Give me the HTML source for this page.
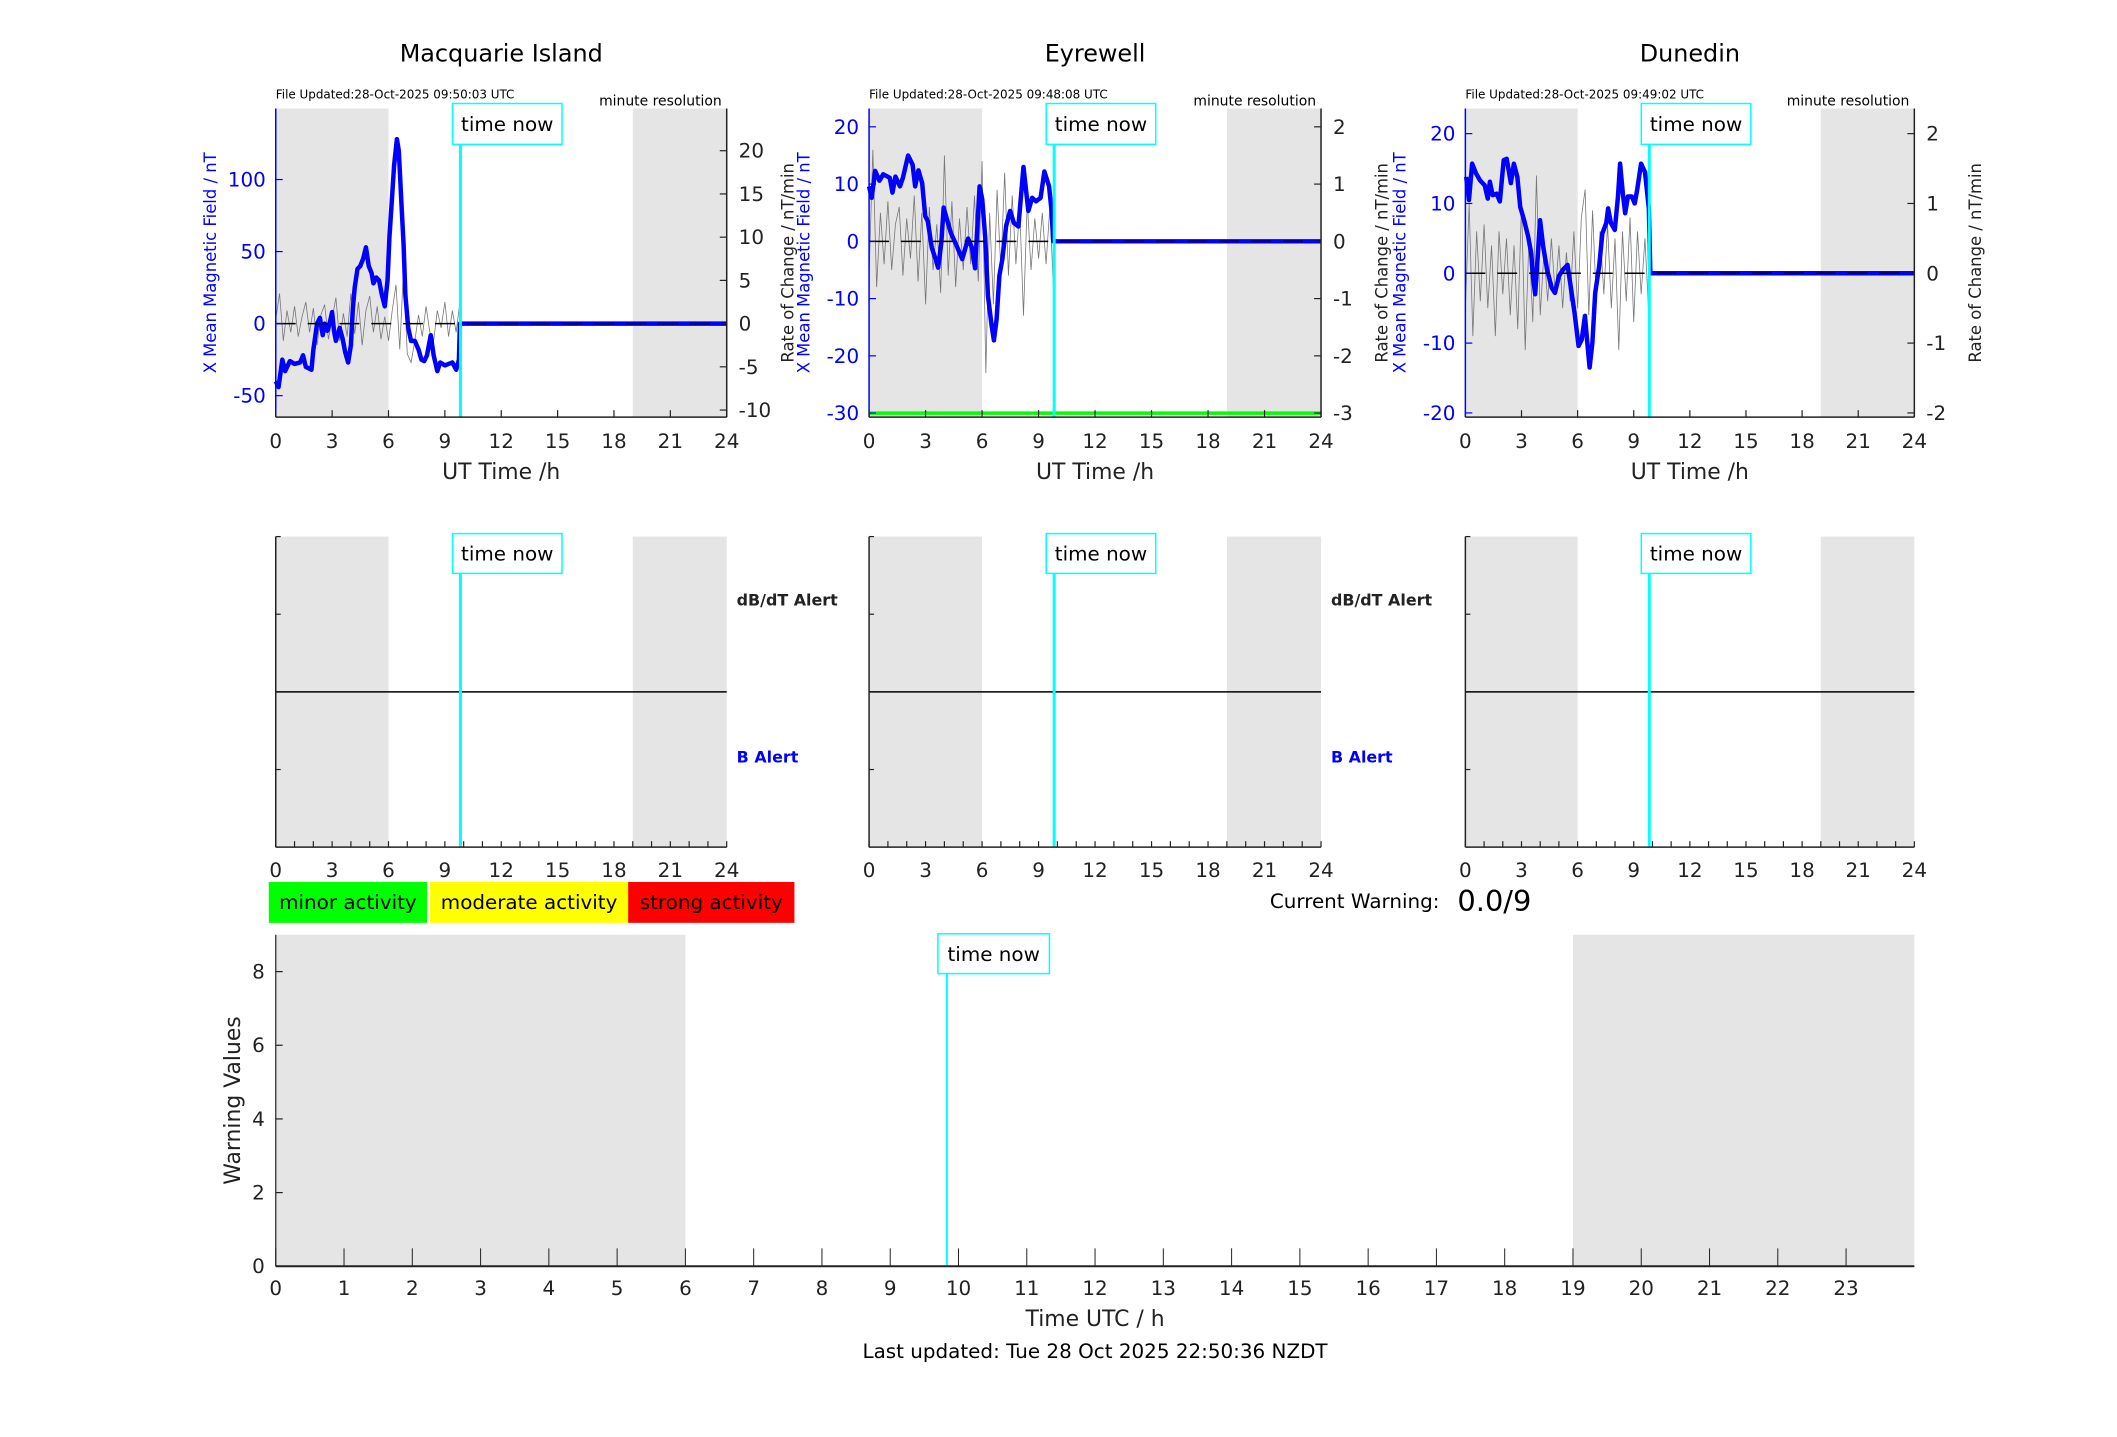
<!DOCTYPE html>
<html><head><meta charset="utf-8"><style>
html,body{margin:0;padding:0;background:#fff;}
svg{display:block;font-family:"DejaVu Sans","Liberation Sans",sans-serif;}
</style></head><body>
<svg id="fig" width="2117" height="1437" viewBox="0 0 2117 1437" xmlns="http://www.w3.org/2000/svg"><g id="root" transform="scale(0.9955)"></g></svg>
<script>
// ---- data ----
const hourTicksTop = [0,3,6,9,12,15,18,21,24];
const nightStart = 0, nightEnd = 6, night2Start = 19, night2End = 24;
const timeNow = 9.83;
const stationNames = ["Macquarie Island","Eyrewell","Dunedin"];
const fileUpdated = ["File Updated:28-Oct-2025 09:50:03 UTC","File Updated:28-Oct-2025 09:48:08 UTC","File Updated:28-Oct-2025 09:49:02 UTC"];
const leftRanges = [[-64.9,149.3],[-30.7,23.2],[-20.6,23.6]];
const leftTicks = [[-50,0,50,100],[-30,-20,-10,0,10,20],[-20,-10,0,10,20]];
const rightScale = [6,10,10];
const rightTicks = [[-10,-5,0,5,10,15,20],[-3,-2,-1,0,1,2],[-2,-1,0,1,2]];

const macqT = [0,0.15,0.35,0.5,0.75,1.0,1.3,1.45,1.6,1.9,2.0,2.2,2.35,2.5,2.6,2.75,2.9,3.0,3.1,3.2,3.4,3.55,3.7,3.85,4.0,4.1,4.2,4.35,4.5,4.65,4.8,4.95,5.1,5.2,5.35,5.5,5.65,5.8,5.95,6.05,6.15,6.3,6.45,6.55,6.7,6.8,6.9,7.05,7.2,7.4,7.6,7.75,7.9,8.05,8.25,8.4,8.6,8.75,9.0,9.2,9.4,9.6,9.75,9.8,24];
const macqB = [-40,-44,-25,-33,-26,-28,-27,-22,-30,-32,-18,0,4,-8,0,-5,2,8,-5,-12,-3,-10,-20,-27,-15,10,25,38,40,45,53,40,35,28,32,30,20,12,30,60,80,110,128,120,80,55,20,-3,-12,-12,-18,-25,-26,-22,-8,-22,-33,-27,-29,-28,-27,-32,-25,0,0];
const eyreT = [0,0.14,0.32,0.55,0.75,1.1,1.24,1.4,1.64,1.8,2.07,2.31,2.45,2.62,2.82,2.98,3.12,3.33,3.53,3.67,3.84,3.96,4.14,4.34,4.65,4.95,5.26,5.46,5.63,5.87,6.01,6.17,6.31,6.51,6.63,6.77,6.92,7.08,7.28,7.49,7.69,7.93,8.2,8.46,8.66,8.87,9.11,9.31,9.56,9.7,9.78,24];
const eyreB = [9.6,7.6,12.3,10.6,11.7,11.1,8.5,11.3,9.6,11.1,15,13.4,9.6,12.4,10.2,4.4,3.5,-1.1,-3.1,-4.6,-0.2,5.9,3.8,1.5,-0.8,-3.1,0.5,-1.1,-4.7,9.6,7.3,0.6,-9.5,-14.7,-17.3,-13.6,-6.0,-3.1,2.7,5.3,3.2,2.6,13,5.3,7.6,7.0,7.6,12.2,9.6,5,0,0];
const dunT = [0.04,0.19,0.36,0.57,0.78,1.03,1.2,1.31,1.46,1.67,1.84,2.05,2.21,2.43,2.59,2.78,2.93,3.14,3.35,3.52,3.63,3.73,3.88,3.99,4.16,4.37,4.62,4.79,5.0,5.21,5.46,5.63,5.84,6.05,6.22,6.39,6.54,6.64,6.79,6.94,7.15,7.32,7.53,7.63,7.78,7.99,8.16,8.27,8.42,8.54,8.69,8.9,9.05,9.18,9.39,9.6,9.81,9.89,24];
const dunB = [13.8,10.5,15.7,14.3,13.3,12.6,10.7,13.1,11.2,11.4,10.3,16.2,16.4,12.9,15.7,13.8,9.5,7.6,5.3,2.9,-0.9,-3.0,2.9,7.6,3.8,0.5,-2.1,-2.8,-0.4,0.5,1.2,-1.9,-5.7,-10.4,-9.5,-6.1,-10.6,-13.5,-9.9,-2.8,1.0,5.7,7.2,9.3,7.2,6.2,11,15.7,11.4,8.6,11,11,10,11.9,15.7,14.5,9.3,0,0];

const rateT = [0,0.2,0.4,0.6,0.8,1.0,1.2,1.4,1.6,1.8,2.0,2.2,2.4,2.6,2.8,3.0,3.2,3.4,3.6,3.8,4.0,4.2,4.4,4.6,4.8,5.0,5.2,5.4,5.6,5.8,6.0,6.2,6.4,6.6,6.8,7.0,7.2,7.4,7.6,7.8,8.0,8.2,8.4,8.6,8.8,9.0,9.2,9.4,9.6,9.8];
const macqRate = [0.5,3.5,-2,1.5,-1,2,-1.5,0.8,2.5,-1,1.8,-2.5,1,2.2,-1.8,0.5,3,-2,1.2,-1.5,3.5,-1.2,2.5,-2.5,1.5,3.2,-1,2,-1.8,0.8,-2,1.5,4.5,-3,6.5,-3.5,-4.5,-2,1,-1.5,2,-1,-2,1.5,-0.5,2.5,-1.5,1.5,-1,2.5];
const eyreRate = [-0.6,1.6,-0.8,0.5,-0.4,0.7,-0.5,0.3,0.6,-0.6,0.4,-0.3,0.8,-0.7,0.5,-1.1,0.6,-0.5,0.3,-0.9,1.5,-0.6,0.7,-0.8,0.4,-0.5,0.6,-0.4,0.8,-0.7,1.4,-2.3,0.5,-1.1,0.9,-0.5,1.2,-0.6,0.8,-0.4,0.6,-1.3,0.7,-0.5,0.4,-0.3,0.5,-0.4,0.6,-0.9];
const dunRate = [-0.5,1.0,-0.9,0.6,-0.4,0.7,-0.5,0.4,-0.9,0.6,-0.3,0.5,-0.6,0.4,-0.8,1.0,-1.1,0.5,-0.7,1.4,-0.6,0.3,-0.4,0.5,-0.3,0.4,-0.5,0.3,-0.4,0.6,-0.5,0.8,1.2,-0.6,0.9,-0.4,0.6,-0.3,0.7,-0.5,0.5,-1.1,0.6,-0.4,0.8,-0.7,0.6,-0.3,0.5,-0.6];

const warnXTicks = [0,1,2,3,4,5,6,7,8,9,10,11,12,13,14,15,16,17,18,19,20,21,22,23];
const warnYTicks = [0,2,4,6,8];
const warnRange = [0,9];

// ---- drawing ----
const NS = "http://www.w3.org/2000/svg";
const svg = document.getElementById("root");
function mk(tag, attrs, parent){
  const e = document.createElementNS(NS, tag);
  for (const k in attrs) e.setAttribute(k, attrs[k]);
  (parent||svg).appendChild(e);
  return e;
}
function txt(s, attrs, parent){ const e = mk("text", attrs, parent); e.textContent = s; return e; }

const panels = [{x0:277,x1:730},{x0:873,x1:1327},{x0:1472,x1:1923}];
const blueT = [macqT, eyreT, dunT];
const blueB = [macqB, eyreB, dunB];
const rates = [macqRate, eyreRate, dunRate];
const topY0 = 109, topY1 = 419;
const midY0 = 539, midY1 = 851;

function timeNowBox(g, xLine, yTop, w, h, fs){
  const box = mk("rect",{x:xLine-8,y:yTop,width:w,height:h,fill:"#fff",stroke:"#00ffff","stroke-width":1.5},g);
  
  
  const t = txt("time now",{x:xLine-8+w/2,y:yTop+h/2+fs*0.36,"font-size":fs,"text-anchor":"middle",fill:"#000"},g);
  
  
}

panels.forEach((p, i) => {
  const sx = h => p.x0 + (h/24)*(p.x1-p.x0);
  const [lo, hi] = leftRanges[i];
  const sy = v => topY1 - (v-lo)/(hi-lo)*(topY1-topY0);
  const syR = r => sy(r*rightScale[i]);
  const g = mk("g",{});
  
  

  const title = txt(stationNames[i],{x:(p.x0+p.x1)/2,y:62,"font-size":24,"text-anchor":"middle"},g);
  
  
  const fu = txt(fileUpdated[i],{x:p.x0,y:99,"font-size":12},g);
  
  
  const mr = txt("minute resolution",{x:p.x1-5,y:106,"font-size":14,"text-anchor":"end"},g);
  
  

  [[nightStart,nightEnd],[night2Start,night2End]].forEach(([a,b])=>{
    const r = mk("rect",{x:sx(a),y:topY0,width:sx(b)-sx(a),height:topY1-topY0,fill:"#e5e5e5"},g);
    
    
  });
  if (i===1){
    const gl = mk("line",{x1:sx(0),x2:sx(24),y1:sy(-30),y2:sy(-30),stroke:"#00ff00","stroke-width":3.5},g);
    
    
  }
  const rp = rates[i].map((v,k)=>sx(rateT[k]).toFixed(1)+","+syR(v).toFixed(1)).join(" ");
  const rl = mk("polyline",{points:rp,fill:"none",stroke:"#777","stroke-width":0.8},g);
  
  
  const bp = blueB[i].map((v,k)=>sx(blueT[i][k]).toFixed(1)+","+sy(v).toFixed(1)).join(" ");
  const bl = mk("polyline",{points:bp,fill:"none",stroke:"#0000ff","stroke-width":4.5,"stroke-linejoin":"round"},g);
  
  
  const zl = mk("line",{x1:sx(0),x2:sx(24),y1:sy(0),y2:sy(0),stroke:"#000","stroke-width":1.5,"stroke-dasharray":"20 12"},g);
  
  
  const tl = mk("line",{x1:sx(timeNow),x2:sx(timeNow),y1:topY0+35,y2:topY1,stroke:"#00ffff","stroke-width":3},g);
  
  
  timeNowBox(g, sx(timeNow), 104, 110, 41, 20);

  const la = mk("line",{x1:p.x0,x2:p.x0,y1:topY0,y2:topY1,stroke:"#0000ff","stroke-width":1.5},g);
  
  
  const ra = mk("line",{x1:p.x1,x2:p.x1,y1:topY0,y2:topY1,stroke:"#222","stroke-width":1.5},g);
  
  
  const ba = mk("line",{x1:p.x0,x2:p.x1,y1:topY1,y2:topY1,stroke:"#222","stroke-width":1.5},g);
  
  

  leftTicks[i].forEach(v=>{
    const tk = mk("line",{x1:p.x0,x2:p.x0+7,y1:sy(v),y2:sy(v),stroke:"#0000ff","stroke-width":1.2},g);
    
    
    const tt = txt(String(v),{x:p.x0-10,y:sy(v)+7,"font-size":20,"text-anchor":"end",fill:"#0000ff"},g);
    
    
  });
  rightTicks[i].forEach(v=>{
    const tk = mk("line",{x1:p.x1-7,x2:p.x1,y1:syR(v),y2:syR(v),stroke:"#222","stroke-width":1.2},g);
    
    
    const tt = txt(String(v),{x:p.x1+12,y:syR(v)+7,"font-size":20,fill:"#222"},g);
    
    
  });
  hourTicksTop.forEach(h=>{
    const tk = mk("line",{x1:sx(h),x2:sx(h),y1:topY1,y2:topY1-7,stroke:"#222","stroke-width":1.2},g);
    
    
    const tt = txt(String(h),{x:sx(h),y:450,"font-size":20,"text-anchor":"middle",fill:"#222"},g);
    
    
  });
  const xl = txt("UT Time /h",{x:(p.x0+p.x1)/2,y:481,"font-size":22,"text-anchor":"middle",fill:"#222"},g);
  
  
  const cy = (topY0+topY1)/2;
  const yl = txt("X Mean Magnetic Field / nT",{x:p.x0-60,y:cy,"font-size":16.5,"text-anchor":"middle",fill:"#0000ff",transform:`rotate(-90 ${p.x0-60} ${cy})`},g);
  
  
  const yr = txt("Rate of Change / nT/min",{x:p.x1+67,y:cy,"font-size":16.5,"text-anchor":"middle",fill:"#222",transform:`rotate(-90 ${p.x1+67} ${cy})`},g);
  
  

  const a = mk("g",{});
  
  
  [[nightStart,nightEnd],[night2Start,night2End]].forEach(([s,e])=>{
    const r = mk("rect",{x:sx(s),y:midY0,width:sx(e)-sx(s),height:midY1-midY0,fill:"#e5e5e5"},a);
    
    
  });
  const my = (midY0+midY1)/2;
  const ml = mk("line",{x1:p.x0,x2:p.x1,y1:my,y2:my,stroke:"#000","stroke-width":1.5},a);
  
  
  const at = mk("line",{x1:sx(timeNow),x2:sx(timeNow),y1:midY0+35,y2:midY1,stroke:"#00ffff","stroke-width":3},a);
  
  
  timeNowBox(a, sx(timeNow), 536, 110, 40, 20);
  const al = mk("line",{x1:p.x0,x2:p.x0,y1:midY0,y2:midY1,stroke:"#222","stroke-width":1.5},a);
  
  
  const ab = mk("line",{x1:p.x0,x2:p.x1,y1:midY1,y2:midY1,stroke:"#222","stroke-width":1.5},a);
  
  
  [midY0, midY0+(midY1-midY0)/4, midY0+3*(midY1-midY0)/4].forEach(y=>{
    const tk = mk("line",{x1:p.x0,x2:p.x0+5,y1:y,y2:y,stroke:"#222","stroke-width":1.2},a);
    
    
  });
  for (let h=0; h<=24; h++){
    const tk = mk("line",{x1:sx(h),x2:sx(h),y1:midY1,y2:midY1-6,stroke:"#222","stroke-width":1.2},a);
    
    
  }
  hourTicksTop.forEach(h=>{
    const tt = txt(String(h),{x:sx(h),y:881,"font-size":20,"text-anchor":"middle",fill:"#222"},a);
    
    
  });
  if (i<2){
    const d = txt("dB/dT Alert",{x:p.x1+10,y:608,"font-size":16,"font-weight":"bold",fill:"#222"},a);
    
    
    const b = txt("B Alert",{x:p.x1+10,y:766,"font-size":16,"font-weight":"bold",fill:"#0000ff"},a);
    
    
  }
});

const legend = [["minor activity","#00ff00",270,429],["moderate activity","#ffff00",432,631],["strong activity","#ff0000",631,798]];
legend.forEach(([label,col,x0,x1])=>{
  const r = mk("rect",{x:x0,y:886,width:x1-x0,height:41,fill:col});
  
  
  const t = txt(label,{x:(x0+x1)/2,y:913,"font-size":20,"text-anchor":"middle",fill:"#000"});
  
  
});
const cw = txt("Current Warning:",{x:1446,y:912,"font-size":20,"text-anchor":"end",fill:"#000"});


const cv = txt("0.0/9",{x:1464,y:915,"font-size":29,fill:"#000"});



const W = {x0:277,x1:1923,y0:939,y1:1272};
const wx = h => W.x0 + h/24*(W.x1-W.x0);
const wy = v => W.y1 - (v-warnRange[0])/(warnRange[1]-warnRange[0])*(W.y1-W.y0);
const wg = mk("g",{});


[[nightStart,nightEnd],[night2Start,night2End]].forEach(([s,e])=>{
  const r = mk("rect",{x:wx(s),y:W.y0,width:wx(e)-wx(s),height:W.y1-W.y0,fill:"#e5e5e5"},wg);
  
  
});
const wt = mk("line",{x1:wx(timeNow),x2:wx(timeNow),y1:W.y0+38,y2:W.y1,stroke:"#00ffff","stroke-width":2},wg);


timeNowBox(wg, wx(timeNow)-1, 938, 112, 40, 20);
const wl = mk("line",{x1:W.x0,x2:W.x0,y1:W.y0,y2:W.y1,stroke:"#222","stroke-width":1.2},wg);


const wb = mk("line",{x1:W.x0,x2:W.x1,y1:W.y1,y2:W.y1,stroke:"#222","stroke-width":2},wg);


warnXTicks.forEach(h=>{
  const tk = mk("line",{x1:wx(h),x2:wx(h),y1:W.y1,y2:W.y1-18,stroke:"#222","stroke-width":1},wg);
  
  
  const tt = txt(String(h),{x:wx(h),y:1301,"font-size":20,"text-anchor":"middle",fill:"#222"},wg);
  
  
});
warnYTicks.forEach(v=>{
  const tk = mk("line",{x1:W.x0,x2:W.x0+7,y1:wy(v),y2:wy(v),stroke:"#222","stroke-width":1.2},wg);
  
  
  const tt = txt(String(v),{x:W.x0-11,y:wy(v)+7,"font-size":20,"text-anchor":"end",fill:"#222"},wg);
  
  
});
const wxl = txt("Time UTC / h",{x:(W.x0+W.x1)/2,y:1332,"font-size":22,"text-anchor":"middle",fill:"#222"},wg);


const wcy = (W.y0+W.y1)/2;
const wyl = txt("Warning Values",{x:241,y:wcy,"font-size":22,"text-anchor":"middle",fill:"#222",transform:`rotate(-90 241 ${wcy})`},wg);


const lu = txt("Last updated: Tue 28 Oct 2025 22:50:36 NZDT",{x:1100,y:1364,"font-size":20,"text-anchor":"middle",fill:"#000"});


</script>
</body></html>
